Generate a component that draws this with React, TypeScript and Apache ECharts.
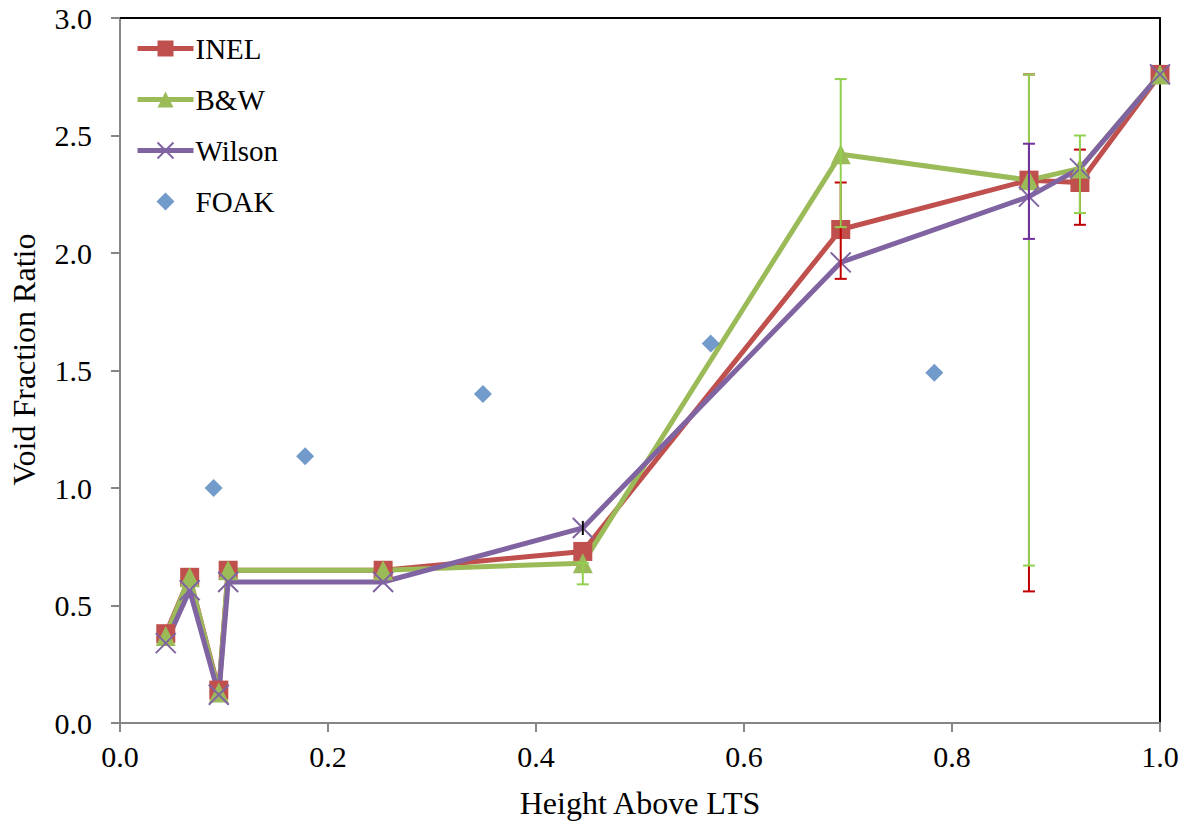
import React, { useEffect, useRef } from "react";
import * as echarts from "echarts";

const inelX = [0.044, 0.067, 0.095, 0.104, 0.253, 0.445, 0.693, 0.874, 0.923, 1.0];
const inelY = [0.38, 0.62, 0.14, 0.65, 0.65, 0.73, 2.1, 2.31, 2.3, 2.76];
const bwY = [0.37, 0.62, 0.13, 0.65, 0.65, 0.68, 2.42, 2.31, 2.36, 2.76];
const wilsonY = [0.34, 0.565, 0.12, 0.6, 0.6, 0.83, 1.96, 2.24, 2.36, 2.76];
const foakX = [0.09, 0.178, 0.349, 0.568, 0.783];
const foakY = [1.0, 1.135, 1.4, 1.615, 1.49];

// error bars: [x, low, high]
const inelErr = [[0.693, 1.89, 2.3], [0.874, 0.56, 2.76], [0.923, 2.12, 2.44]];
const bwErr = [[0.445, 0.59, 0.68], [0.693, 2.11, 2.74], [0.874, 0.67, 2.76], [0.923, 2.17, 2.5]];
const wilsonErr = [[0.874, 2.06, 2.465]];
const wilsonSmallErr = [[0.445, 0.8, 0.86]];

const FONT = "'Liberation Serif', 'Times New Roman', serif";

function errSeries(name: string, data: number[][], color: string, cap: number, width: number) {
  return {
    type: "custom",
    name,
    z: 4,
    silent: true,
    data,
    renderItem: (params: any, api: any) => {
      const x = api.value(0);
      const lo = api.coord([x, api.value(1)]);
      const hi = api.coord([x, api.value(2)]);
      const style = { stroke: color, lineWidth: width };
      const children: any[] = [
        { type: "line", shape: { x1: lo[0], y1: lo[1], x2: hi[0], y2: hi[1] }, style },
      ];
      if (cap > 0) {
        children.push(
          { type: "line", shape: { x1: lo[0] - cap, y1: lo[1], x2: lo[0] + cap, y2: lo[1] }, style },
          { type: "line", shape: { x1: hi[0] - cap, y1: hi[1], x2: hi[0] + cap, y2: hi[1] }, style }
        );
      }
      return { type: "group", children };
    },
  };
}

export default function App() {
  const ref = useRef<HTMLDivElement>(null);
  useEffect(() => {
    const chart = echarts.init(ref.current!, null, { renderer: "svg" });
    const zip = (xs: number[], ys: number[]) => xs.map((x, i) => [x, ys[i]]);
    chart.setOption({
      animation: false,
      backgroundColor: "#fff",
      grid: { left: 117, right: 27, top: 18, bottom: 99, containLabel: false },
      legend: {
        data: [
          { name: "INEL" },
          { name: "B&W" },
          { name: "Wilson" },
          { name: "FOAK", icon: "path://M0,9L0,9M28,0L37,9L28,18L19,9ZM56,9L56,9" },
        ],
        orient: "vertical",
        left: 130,
        top: 29,
        itemGap: 22,
        itemWidth: 56,
        itemHeight: 20,
        lineStyle: { width: 5 },
        textStyle: { fontFamily: FONT, fontSize: 29, color: "#000", padding: [0, 0, 0, -3] },
      },
      xAxis: [
        {
          type: "value",
          min: 0,
          max: 1,
          interval: 0.2,
          name: "Height Above LTS",
          nameLocation: "middle",
          nameGap: 64,
          nameTextStyle: { fontFamily: FONT, fontSize: 32, color: "#000" },
          axisLine: { lineStyle: { color: "#868686", width: 2 } },
          axisTick: { show: true, lineStyle: { color: "#868686", width: 2 }, length: 9 },
          axisLabel: {
            fontFamily: FONT,
            fontSize: 30,
            color: "#000",
            margin: 18,
            formatter: (v: number) => v.toFixed(1),
          },
          splitLine: { show: false },
        },
        {
          type: "value",
          position: "top",
          min: 0,
          max: 1,
          axisLine: { show: true, onZero: false, lineStyle: { color: "#000", width: 2 } },
          axisTick: { show: false },
          axisLabel: { show: false },
          splitLine: { show: false },
        },
      ],
      yAxis: [
        {
          type: "value",
          min: 0,
          max: 3,
          interval: 0.5,
          name: "Void Fraction Ratio",
          nameLocation: "middle",
          nameGap: 80,
          nameTextStyle: { fontFamily: FONT, fontSize: 32, color: "#000", padding: [0, 0, 0, 22] },
          axisLine: { show: true, lineStyle: { color: "#868686", width: 2 } },
          axisTick: { show: true, lineStyle: { color: "#868686", width: 2 }, length: 9 },
          axisLabel: {
            fontFamily: FONT,
            fontSize: 30,
            color: "#000",
            margin: 28,
            formatter: (v: number) => v.toFixed(1),
          },
          splitLine: { show: false },
        },
        {
          type: "value",
          position: "right",
          min: 0,
          max: 3,
          axisLine: { show: true, onZero: false, lineStyle: { color: "#000", width: 2 } },
          axisTick: { show: false },
          axisLabel: { show: false },
          splitLine: { show: false },
        },
      ],
      series: [
        {
          name: "INEL",
          type: "line",
          z: 3,
          data: zip(inelX, inelY),
          symbol: "rect",
          symbolSize: 19,
          lineStyle: { color: "#C0504D", width: 5 },
          itemStyle: { color: "#C0504D" },
        },
        {
          name: "B&W",
          type: "line",
          z: 3,
          data: zip(inelX, bwY),
          symbol: "triangle",
          symbolSize: 20,
          lineStyle: { color: "#9BBB59", width: 5 },
          itemStyle: { color: "#9BBB59" },
        },
        {
          name: "Wilson",
          type: "line",
          z: 3,
          data: zip(inelX, wilsonY),
          symbol: "path://M0,0L10,10M10,0L0,10",
          symbolSize: 20,
          lineStyle: { color: "#8064A2", width: 5 },
          itemStyle: { color: "#8064A2", borderColor: "#8064A2", borderWidth: 2 },
        },
        {
          name: "FOAK",
          type: "scatter",
          z: 3,
          data: zip(foakX, foakY),
          symbol: "diamond",
          symbolSize: 18,
          itemStyle: { color: "#4F81BD" },
        },
        errSeries("inelErr", inelErr, "#C00000", 6, 2),
        errSeries("bwErr", bwErr, "#92D050", 6, 2),
        errSeries("wilsonErr", wilsonErr, "#7030A0", 6, 2),
        errSeries("wilsonSmallErr", wilsonSmallErr, "#000000", 0, 2),
      ],
    });
    return () => chart.dispose();
  }, []);
  return <div ref={ref} style={{ width: 1187, height: 824, position: "absolute", left: 0, top: 0 }} />;
}
